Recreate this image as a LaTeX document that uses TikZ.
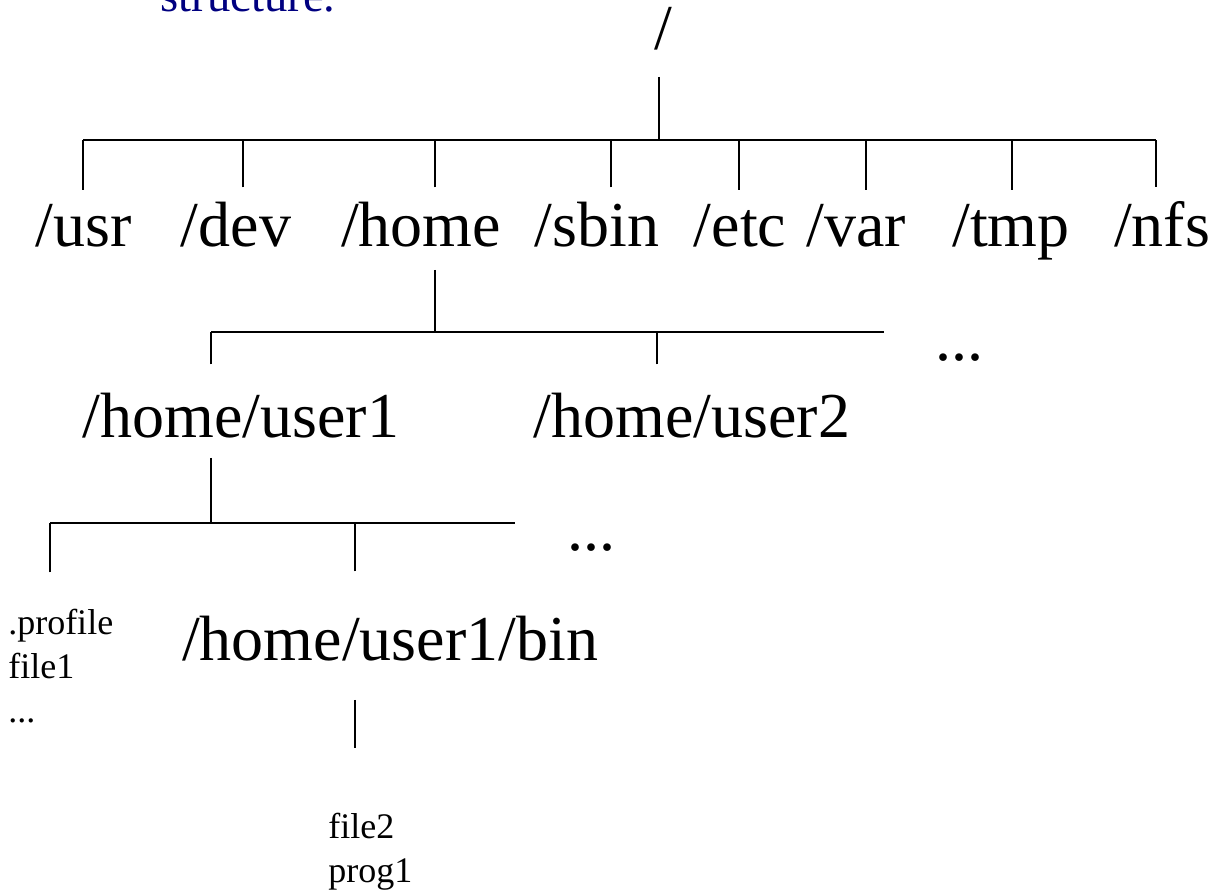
\documentclass[tikz,border=0pt]{standalone}
\usepackage{fontspec}
\setmainfont{Liberation Serif}
\usetikzlibrary{positioning,calc}
\definecolor{slidenavy}{RGB}{0,0,128}

\begin{document}
\begin{tikzpicture}[x=0.75pt,y=-0.75pt,
  dir/.style={inner sep=0pt,anchor=base,font=\fontsize{48}{58}\selectfont},
  files/.style={inner sep=0pt,anchor=base west,align=left,font=\fontsize{27}{33}\selectfont},
  wire/.style={line width=1.1pt}]
\useasboundingbox (0,0) rectangle (1214,891);
\node[dir,text=slidenavy,font=\fontsize{35}{42}\selectfont] (title) at (248,12) {structure.};
\node[dir] (root) at (663,50) {/};
% first level
\node[dir] (usr) at (84,247) {/usr};
\node[dir] (dev) at (236,247) {/dev};
\node[dir] (home) at (421,247) {/home};
\node[dir] (sbin) at (597,247) {/sbin};
\node[dir] (etc) at (740,247) {/etc};
\node[dir] (var) at (856,247) {/var};
\node[dir] (tmp) at (1011,247) {/tmp};
\node[dir] (nfs) at (1162,247) {/nfs};
% second level
\node[dir] (user1) at (241,437) {/home/user1};
\node[dir] (user2) at (692,437) {/home/user2};
\node[dir] (more1) at (959,360) {...};
% third level (base of a list is its last line)
\node[files] (dotfiles) at (8,722) {.profile\\file1\\...};
\node[dir] (bin) at (390,660) {/home/user1/bin};
\node[dir] (more2) at (591,550) {...};
\node[files] (binfiles) at (328,882) {file2\\prog1};

% junctions
\coordinate (j-root) at (659,140);
\coordinate (j-home) at (435,332);
\coordinate (e-home) at (884,332);
\coordinate (j-user1) at (211,523);
\coordinate (e-user1) at (515,523);

% root
\draw[wire] (j-root |- root.south) ++(0,26) -- (j-root);
\foreach \n/\dx in {usr/-1,dev/7,home/14,sbin/14,etc/-1,var/10,tmp/1,nfs/-6}
  \draw[wire] (\n.north) ++(\dx,-15) coordinate (\n-top) -- (\n-top |- j-root);
\draw[wire] (usr-top |- j-root) -- (nfs-top |- j-root);

% /home
\draw[wire] (j-home |- home.south) ++(0,22) -- (j-home);
\foreach \n/\dx in {user1/-30,user2/-35}
  \draw[wire] (\n.north) ++(\dx,-28) coordinate (\n-top) -- (\n-top |- j-home);
\draw[wire] (user1-top |- j-home) -- (e-home);

% /home/user1
\draw[wire] (j-user1 |- user1.south) ++(0,20) -- (j-user1);
\draw[wire] (dotfiles.north west) ++(42,-36) coordinate (dot-top) -- (dot-top |- j-user1);
\draw[wire] (bin.north) ++(-35,-44) coordinate (bin-top) -- (bin-top |- j-user1);
\draw[wire] (dot-top |- j-user1) -- (e-user1);

% /home/user1/bin
\draw[wire] (bin.south) ++(-35,39) -- ++(0,48);
\end{tikzpicture}
\end{document}
